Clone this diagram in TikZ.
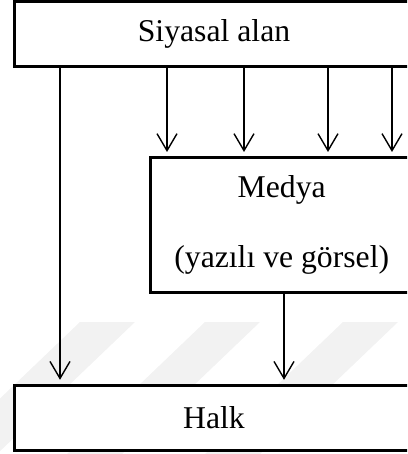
\documentclass[tikz,border=0pt]{standalone}
\usepackage{fontspec}
\setmainfont{Liberation Serif}
\usetikzlibrary{arrows.meta}
\begin{document}
\begin{tikzpicture}[x=1pt,y=-1pt,
  box/.style={draw, line width=3pt, fill=white, inner sep=0pt,
    font=\fontsize{31.7}{38}\selectfont, align=center},
  flow/.style={line width=1.4pt, -{Straight Barb[length=17pt,width=20pt]},
    shorten >=4pt},
  stripe/.style={fill=black!5, draw=none}]

\useasboundingbox (0,0) rectangle (407,454);
\clip (0,0) rectangle (407,454);

% faint slanted background stripes
\foreach \x in {80,205,343}
  \fill[stripe] (\x,322) -- (\x+55,322) -- (\x-83,454) -- (\x-138,454) -- cycle;

% boxes (their right edges run past the page)
\node[box, minimum width=400pt, minimum height=65.5pt] (siyasal) at (214,34.25) {Siyasal alan};
\node[box, minimum width=262.5pt, minimum height=134.5pt] (medya) at (281.75,224.75)
  {Medya\\[32pt](yazılı ve görsel)};
\node[box, minimum width=400pt, minimum height=65.2pt] (halk) at (214,417.9) {Halk};

% arrow columns
\coordinate (cl) at (60,0);
\coordinate (c1) at (167,0);
\coordinate (c2) at (244,0);
\coordinate (c3) at (328,0);
\coordinate (c4) at (392,0);
\coordinate (cm) at (284,0);

\draw[flow] (siyasal.south -| cl) -- (halk.north -| cl);
\foreach \c in {c1,c2,c3,c4}
  \draw[flow] (siyasal.south -| \c) -- (medya.north -| \c);
\draw[flow] (medya.south -| cm) -- (halk.north -| cm);
\end{tikzpicture}
\end{document}
